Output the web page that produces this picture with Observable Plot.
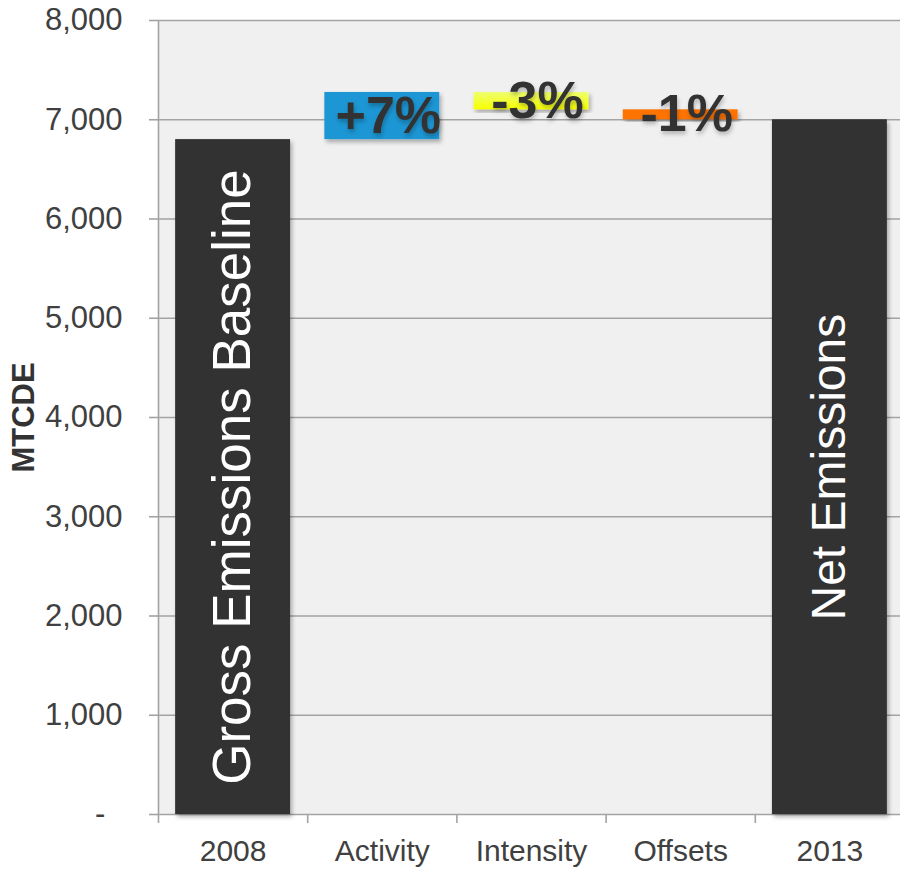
<!DOCTYPE html>
<html><head><meta charset="utf-8">
<script src="https://cdn.jsdelivr.net/npm/d3@7"></script>
<script src="https://cdn.jsdelivr.net/npm/@observablehq/plot@0.6"></script>
<style>body{margin:0;background:#fff;}</style>
</head><body><div id="chart"></div>
<script>
const categories = ["2008", "Activity", "Intensity", "Offsets", "2013"];
const kinds = ["total", "delta", "delta", "delta", "total"];
const values = [6800, 475, -175, -100, 7000];
const labels = ["Gross Emissions Baseline", "+7%", "-3%", "-1%", "Net Emissions"];
const colors = ["#313131", "#1a96d4", "url(#yellowGrad)", "#ff7300", "#313131"];
const yTicks = [0, 1000, 2000, 3000, 4000, 5000, 6000, 7000, 8000];

let running = 0;
const bars = categories.map((c, i) => {
  let y1, y2;
  if (kinds[i] === "total") { y1 = 0; y2 = values[i]; running = values[i]; }
  else { y1 = running; y2 = running + values[i]; running = y2; }
  return {i, c, y1, y2, label: labels[i], kind: kinds[i], color: colors[i]};
});
const gridColor = "#a3a3a3";
const plot = Plot.plot({
  width: 900, height: 869,
  marginLeft: 158, marginRight: 0, marginTop: 20, marginBottom: 55,
  style: {fontFamily: "'Liberation Sans', Arial, sans-serif", background: "#fff", color: "#404040"},
  x: {type: "linear", domain: [0, categories.length], range: [158, 904]},
  y: {domain: [0, 8000]},
  color: {type: "identity"},
  marks: [
    Plot.frame({fill: "#f0f0f0", stroke: "none"}),
    Plot.ruleY(yTicks, {stroke: gridColor, strokeWidth: 1.6}),
    Plot.ruleX([0], {stroke: gridColor, strokeWidth: 1.6}),
    Plot.axisY({ticks: yTicks, tickSize: 9, tickPadding: 27, fontSize: 31, stroke: gridColor, strokeWidth: 1.6,
      tickFormat: d => d === 0 ? "-\u2007" : d3.format(",")(d),
      label: "MTCDE", labelAnchor: "center", labelOffset: 147, labelArrow: "none"}),
    Plot.axisX({ticks: d3.range(0, categories.length + 1), tickSize: 9, tickFormat: () => "", stroke: gridColor, strokeWidth: 1.6, label: null}),
    Plot.axisX({ticks: categories.map((c, i) => i + 0.5), tickSize: 0, tickPadding: 25, fontSize: 30,
      tickFormat: d => categories[Math.floor(d)], label: null}),
    Plot.rectY(bars, {x1: d => d.i + 0.115, x2: d => d.i + 0.885, y1: "y1", y2: "y2", fill: "color"}),
    Plot.text(bars.filter(d => d.i === 0), {x: d => d.i + 0.5, y: d => (d.y1 + d.y2) / 2, text: "label", rotate: -90, fill: "white", fontSize: 53}),
    Plot.text(bars.filter(d => d.i === 4), {x: d => d.i + 0.5, y: d => (d.y1 + d.y2) / 2, text: "label", rotate: -90, fill: "white", fontSize: 48}),
    Plot.text(bars.filter(d => d.kind === "delta"), {x: d => d.i + 0.5, y: d => (d.y1 + d.y2) / 2, text: "label", fill: "#333", fontSize: 52, fontWeight: "bold", dx: 6})
  ]
});
const svg = d3.select(plot);
const defs = svg.insert("defs", ":first-child");
const g = defs.append("linearGradient").attr("id", "yellowGrad").attr("x1", 0).attr("y1", 0).attr("x2", 0).attr("y2", 1);
g.append("stop").attr("offset", "0%").attr("stop-color", "#eeff70");
g.append("stop").attr("offset", "100%").attr("stop-color", "#f8ff00");
const f = defs.append("filter").attr("id", "shadow").attr("x", "-20%").attr("y", "-20%").attr("width", "140%").attr("height", "140%");
f.append("feDropShadow").attr("dx", 2).attr("dy", 3).attr("stdDeviation", 2).attr("flood-color", "#000").attr("flood-opacity", 0.3);
const f2 = defs.append("filter").attr("id", "tshadow").attr("x", "-20%").attr("y", "-20%").attr("width", "140%").attr("height", "140%");
f2.append("feDropShadow").attr("dx", 1).attr("dy", 3).attr("stdDeviation", 2).attr("flood-color", "#000").attr("flood-opacity", 0.25);
svg.selectAll('g[aria-label="rect"] rect').attr("filter", "url(#shadow)");
svg.selectAll('g[aria-label="text"]').filter((d, i, n) => i === 2).attr("filter", "url(#tshadow)");
svg.selectAll('g[aria-label="y-axis label"] text').attr("font-weight", "bold").attr("fill", "#333");
document.getElementById("chart").appendChild(plot);
</script>
</body></html>
